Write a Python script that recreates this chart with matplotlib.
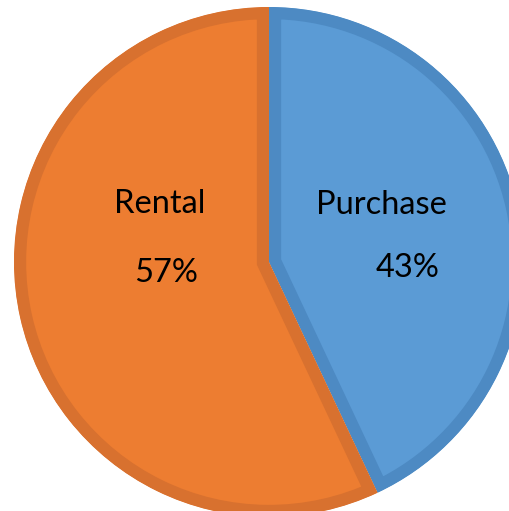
import matplotlib.pyplot as plt

labels = ["Purchase", "Rental"]
shares = [43, 57]
fills = ["#5B9BD5", "#ED7D31"]
edges = ["#4D8AC3", "#D8712F"]

plt.rcParams['font.family'] = ['Lato', 'DejaVu Sans']

fig = plt.figure(figsize=(5.09, 5.11), dpi=100)
ax = fig.add_axes([0, 0, 1, 1])

wedges, _ = ax.pie(shares, colors=fills, startangle=90, counterclock=False,
                   radius=1.0, center=(0, 0))
for w, ec in zip(wedges, edges):
    w.set_edgecolor(ec)
    w.set_linewidth(17.5)
    # keep the stroke inside each slice
    w.set_clip_on(True)
    w.set_clip_path(w.get_path(), w.get_transform())

# label placement (name above, percent below), baseline positions
name_pos = [(0.439, 0.188), (-0.427, 0.191)]
pct_pos = [(0.545, -0.058), (-0.404, -0.077)]
for lab, v, (nx, ny), (px, py) in zip(labels, shares, name_pos, pct_pos):
    ax.text(nx, ny, lab, fontsize=23.5, ha="center", va="baseline", color="black")
    ax.text(px, py, "%d%%" % v, fontsize=23.5, ha="center", va="baseline", color="black")

r = 255.0
ax.set_xlim(-269 / r, (509 - 269) / r)
ax.set_ylim(-(511 - 262) / r, 262 / r)
ax.set_aspect("auto")
ax.axis("off")

fig.savefig("out.png", dpi=100)
